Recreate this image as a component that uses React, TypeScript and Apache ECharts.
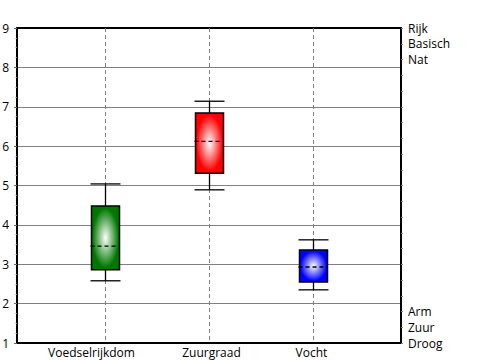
import React, { useEffect, useRef } from 'react';
import * as echarts from 'echarts';

const categories = ['Voedselrijkdom', 'Zuurgraad', 'Vocht'];
const categoryPositions = [1, 2, 3];
const whiskerLow = [2.58, 4.89, 2.35];
const quartile1 = [2.86, 5.31, 2.55];
const medians = [3.46, 6.12, 2.93];
const quartile3 = [4.48, 6.84, 3.36];
const whiskerHigh = [5.04, 7.14, 3.62];
const boxColors = ['#007800', '#ff0000', '#0000ff'];
// horizontal label nudges (px) as seen in the reference
const labelNudges = [-14, 2, -2];

const leftTicks = [1, 2, 3, 4, 5, 6, 7, 8, 9];
const rightLabelSteps = [0, 1, 2, 18, 19, 20];
const rightLabelTexts = ['Droog', 'Zuur', 'Arm', 'Nat', 'Basisch', 'Rijk'];

const FONT = 'Open Sans';

export default function App() {
  const ref = useRef<HTMLDivElement>(null);
  useEffect(() => {
    if (!ref.current) return;
    const chart = echarts.init(ref.current, undefined, { renderer: 'svg' });
    const data = categories.map((_, i) => [
      categoryPositions[i],
      whiskerLow[i],
      quartile1[i],
      medians[i],
      quartile3[i],
      whiskerHigh[i],
    ]);
    const yMin = leftTicks[0];
    const yMax = leftTicks[leftTicks.length - 1];
    chart.setOption({
      animation: false,
      backgroundColor: '#ffffff',
      grid: { left: 17, right: 99, top: 28, bottom: 17, containLabel: false, outerBoundsMode: 'none' },
      xAxis: [
        {
          type: 'value',
          min: 0.15,
          max: 3.85,
          position: 'bottom',
          axisLine: { show: true, onZero: false, lineStyle: { color: '#000', width: 2 } },
          axisTick: { show: false },
          axisLabel: { show: false },
          splitLine: { show: false },
        },
        {
          type: 'value',
          min: 0,
          max: 1,
          position: 'top',
          axisLine: { show: true, onZero: false, lineStyle: { color: '#000', width: 2 } },
          axisTick: { show: false },
          axisLabel: { show: false },
          splitLine: { show: false },
        },
      ],
      yAxis: [
        {
          type: 'value',
          min: yMin,
          max: yMax,
          interval: 1,
          position: 'left',
          axisLine: { show: true, onZero: false, lineStyle: { color: '#000', width: 2 } },
          axisTick: { show: true, length: 3, lineStyle: { color: '#666', width: 1 } },
          minorTick: { show: true, splitNumber: 4, length: 1.5, lineStyle: { color: '#888', width: 1 } },
          axisLabel: { color: '#000', fontSize: 12, fontFamily: FONT, margin: 8 },
          splitLine: { show: true, lineStyle: { color: '#808080', width: 1 } },
        },
        {
          type: 'value',
          min: 0,
          max: 20,
          interval: 1,
          position: 'right',
          axisLine: { show: true, onZero: false, lineStyle: { color: '#000', width: 2 } },
          axisTick: { show: true, length: 2, lineStyle: { color: '#888', width: 1 } },
          axisLabel: {
            color: '#000',
            fontSize: 12,
            fontFamily: FONT,
            margin: 7,
            formatter: (v: number) => {
              const i = rightLabelSteps.indexOf(Math.round(v));
              return i >= 0 ? rightLabelTexts[i] : '';
            },
          },
          splitLine: { show: false },
        },
      ],
      series: [
        {
          type: 'custom',
          xAxisIndex: 0,
          yAxisIndex: 0,
          clip: false,
          data,
          encode: { x: 0, y: [1, 2, 3, 4, 5] },
          renderItem: (params: any, api: any) => {
            const idx = params.dataIndex;
            const xv = api.value(0);
            const cx = Math.round(api.coord([xv, yMin])[0]) + 0.5;
            const yTop = api.coord([xv, yMax])[1];
            const yBot = api.coord([xv, yMin])[1];
            const yLow = api.coord([xv, api.value(1)])[1];
            const yQ1 = api.coord([xv, api.value(2)])[1];
            const yMed = api.coord([xv, api.value(3)])[1];
            const yQ3 = api.coord([xv, api.value(4)])[1];
            const yHigh = api.coord([xv, api.value(5)])[1];
            const halfBox = 14;
            const halfCap = 15;
            const color = boxColors[idx];
            const lineStyle = { stroke: '#000', lineWidth: 1.3 };
            return {
              type: 'group',
              children: [
                {
                  type: 'line',
                  shape: { x1: cx, y1: yTop, x2: cx, y2: yBot },
                  style: { stroke: '#808080', lineWidth: 1, lineDash: [4, 3] },
                },
                { type: 'line', shape: { x1: cx, y1: yHigh, x2: cx, y2: yQ3 }, style: lineStyle },
                { type: 'line', shape: { x1: cx, y1: yQ1, x2: cx, y2: yLow }, style: lineStyle },
                { type: 'line', shape: { x1: cx - halfCap, y1: yHigh, x2: cx + halfCap, y2: yHigh }, style: lineStyle },
                { type: 'line', shape: { x1: cx - halfCap, y1: yLow, x2: cx + halfCap, y2: yLow }, style: lineStyle },
                {
                  type: 'rect',
                  shape: { x: cx - halfBox, y: yQ3, width: halfBox * 2, height: yQ1 - yQ3 },
                  style: {
                    fill: new echarts.graphic.RadialGradient(0.5, 0.5, 0.55, [
                      { offset: 0, color: '#ffffff' },
                      { offset: 0.85, color },
                      { offset: 1, color },
                    ]),
                    stroke: '#000',
                    lineWidth: 1.5,
                  },
                },
                {
                  type: 'line',
                  shape: { x1: cx - 15, y1: yMed, x2: cx + 13, y2: yMed },
                  style: { stroke: '#000', lineWidth: 1.3, lineDash: [4, 3] },
                },
                {
                  type: 'text',
                  style: {
                    text: categories[idx],
                    x: cx + labelNudges[idx],
                    y: yBot + 3,
                    align: 'center',
                    verticalAlign: 'top',
                    fontSize: 12,
                    fontFamily: FONT,
                    fill: '#000',
                  },
                },
              ],
            };
          },
        },
      ],
    });
    return () => chart.dispose();
  }, []);
  return (
    <div
      ref={ref}
      style={{ position: 'absolute', left: 0, top: 0, width: 500, height: 360, background: '#fff' }}
    />
  );
}
